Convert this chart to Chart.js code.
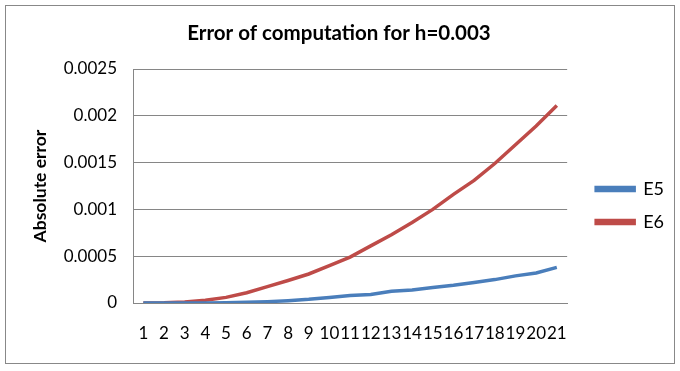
<!DOCTYPE html>
<html>
<head>
<meta charset="utf-8">
<script src="https://cdn.jsdelivr.net/npm/chart.js@4"></script>
<style>
  body { margin: 0; background: #fff; }
  canvas { display: block; }
</style>
</head>
<body>
<canvas id="errChart" width="680" height="371"></canvas>
<script>
// steps 1..21
const steps = ['1','2','3','4','5','6','7','8','9','10','11','12','13','14','15','16','17','18','19','20','21'];

// absolute error
const e5 = [0, 0, 0, 0.000001, 0.000003, 0.000007, 0.000014, 0.000025, 0.00004, 0.00006, 0.00008,
            0.00009, 0.000125, 0.00014, 0.000165, 0.00019, 0.00022, 0.00025, 0.00029, 0.00032, 0.00038];
const e6 = [0, 0.000002, 0.00001, 0.00003, 0.00006, 0.00011, 0.000175, 0.00024, 0.00031, 0.0004, 0.00049,
            0.00061, 0.00073, 0.00086, 0.001, 0.00116, 0.00131, 0.00149, 0.00169, 0.00189, 0.00211];

const yTicks = [0, 0.0005, 0.001, 0.0015, 0.002, 0.0025];

const gridGray = '#868686';
const fontFam = 'Lato, "Open Sans", sans-serif';

// outer frame like the spreadsheet chart border
const frame = {
    id: 'frame',
    afterDraw(chart) {
        const c = chart.ctx;
        c.save();
        c.strokeStyle = '#888';
        c.lineWidth = 1;
        c.strokeRect(5.5, 5.5, 669, 358);
        c.restore();
    }
};

// nudge the legend a bit away from the plot and down, as in excel
const legendNudge = {
    id: 'legendNudge',
    afterLayout(chart) {
        const lg = chart.legend;
        const dx = chart.chartArea.right + 14 - lg.left;
        lg.left += dx; lg.right += dx;
        lg.top += 20; lg.bottom += 20;
    }
};

new Chart(document.getElementById('errChart'), {
    type: 'line',
    data: {
        labels: steps,
        datasets: [
            { label: 'E5', data: e5, borderColor: '#4A7EBB', backgroundColor: '#4A7EBB', borderWidth: 3.5, pointRadius: 0, tension: 0 },
            { label: 'E6', data: e6, borderColor: '#BE4B48', backgroundColor: '#BE4B48', borderWidth: 3.5, pointRadius: 0, tension: 0 }
        ]
    },
    options: {
        responsive: false,
        animation: false,
        layout: { padding: { left: 18, right: 20, top: 0, bottom: 0 } },
        plugins: {
            title: {
                display: true,
                text: 'Error of computation for h=0.003',
                color: '#000',
                font: { family: fontFam, size: 20.5, weight: 'bold' },
                padding: { top: 21, bottom: 23.4 }
            },
            legend: {
                position: 'right',
                labels: {
                    color: '#000',
                    font: { family: fontFam, size: 18 },
                    boxWidth: 38,
                    boxHeight: 3,
                    padding: 15
                }
            },
            tooltip: { enabled: false }
        },
        scales: {
            x: {
                offset: true,
                afterFit(scale) { scale.height = 68; },
                grid: { display: false, drawTicks: false },
                border: { display: true, color: gridGray, width: 1 },
                ticks: {
                    color: '#000',
                    font: { family: fontFam, size: 17 },
                    autoSkip: false,
                    maxRotation: 0,
                    minRotation: 0,
                    padding: 20
                }
            },
            y: {
                min: 0,
                max: 0.0025,
                afterBuildTicks(scale) {
                    scale.ticks = yTicks.map(v => ({ value: v }));
                },
                afterFit(scale) { scale.width = 115; },
                grid: { color: gridGray, drawTicks: false },
                border: { display: true, color: gridGray, width: 1 },
                ticks: {
                    color: '#000',
                    font: { family: fontFam, size: 17 },
                    padding: 16,
                    callback: v => String(Number(v.toFixed(4)))
                },
                title: {
                    display: true,
                    text: 'Absolute error',
                    color: '#000',
                    font: { family: fontFam, size: 17.5, weight: 'bold' },
                    padding: { top: 12, bottom: 0 }
                }
            }
        }
    },
    plugins: [frame, legendNudge]
});
</script>
</body>
</html>
